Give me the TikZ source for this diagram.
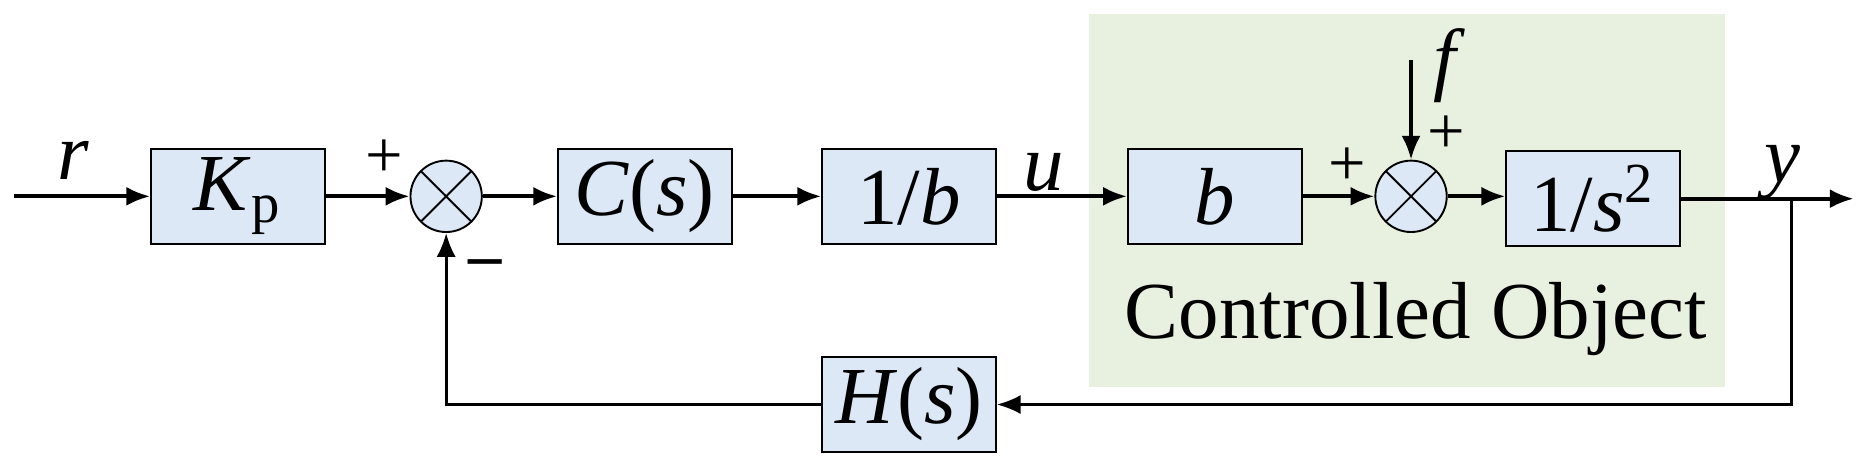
\documentclass[tikz,border=0pt]{standalone}
\usepackage{fontspec}
\setmainfont{Liberation Serif}
\usetikzlibrary{arrows.meta}
\definecolor{bfill}{HTML}{DCE8F5}
\definecolor{gfill}{HTML}{E8F0DF}
\newcommand{\vi}[1]{\textit{#1}}
\begin{document}
\begin{tikzpicture}[x=0.25pt,y=-0.25pt,
  blk/.style={draw,fill=bfill,minimum width=36.5pt,minimum height=20pt,inner sep=0pt,font=\fontsize{17}{20}\selectfont},
  sum/.style={draw,circle,fill=bfill,minimum size=15pt,inner sep=0pt,path picture={\draw (path picture bounding box.north west)--(path picture bounding box.south east) (path picture bounding box.north east)--(path picture bounding box.south west);}},
  lab/.style={font=\fontsize{17}{20}\selectfont},
  sg/.style={font=\fontsize{14}{16}\selectfont},
  ar/.style={-{Latex[length=5pt,width=4pt]},thick}]
\useasboundingbox (0,0) rectangle (1560,390);
\fill[gfill] (915,12) rectangle (1450,325);
\node[blk] (kp) at (200,165) {\vi{K}\textsubscript{p}};
\node[sum] (s1) at (375,165) {};
\node[blk] (cs) at (542,165) {\vi{C}(\vi{s})};
\node[blk] (ib) at (764,165) {1/\vi{b}};
\node[blk] (b) at (1021,165) {\vi{b}};
\node[sum] (s2) at (1186,165) {};
\node[blk] (is) at (1339,167) {1/\vi{s}\textsuperscript{2}};
\node[blk] (hs) at (764,340) {\vi{H}(\vi{s})};
\coordinate (in) at (12,165);
\coordinate (out) at (1558,167);
\coordinate (br) at (1506,167);
\coordinate (ftop) at (1186,50);
\draw[ar] (in) -- (kp);
\draw[ar] (kp) -- (s1);
\draw[ar] (s1) -- (cs);
\draw[ar] (cs) -- (ib);
\draw[ar] (ib) -- (b);
\draw[ar] (b) -- (s2);
\draw[ar] (s2) -- (s2 -| is.west);
\draw[ar] (is.east |- out) -- (out);
\draw[ar] (ftop) -- (s2);
\draw[ar,semithick] (br) |- (hs);
\draw[ar,semithick] (hs) -| (s1);
\node[lab] (lr) at (62,135) {\vi{r}};
\node[lab] (lu) at (877,145) {\vi{u}};
\node[lab] (ly) at (1498,145) {\vi{y}};
\node[lab] (lf) at (1218,55) {\vi{f}};
\node[sg] (p1) at (323,133) {+};
\node[sg] (m1) at (408,226) {\textbf{–}};
\node[sg] (p2) at (1132,140) {+};
\node[sg] (p3) at (1216,113) {+};
\node[lab] (co) at (1190,268) {Controlled Object};
\end{tikzpicture}
\end{document}
